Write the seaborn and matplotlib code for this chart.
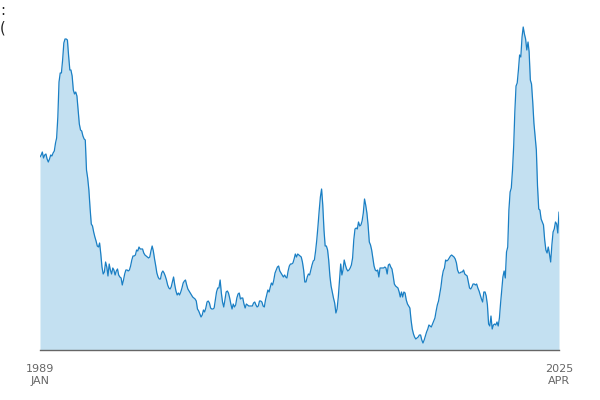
import seaborn as sns
import matplotlib.pyplot as plt
import pandas as pd

# monthly values, Jan 1989 - Apr 2025 (arbitrary units)
v1989 = [193, 195, 198, 192, 195, 196, 191, 188, 191, 195, 194, 197]
v1990 = [199, 207, 212, 233, 268, 277, 277, 290, 307, 311, 311, 310]
v1991 = [294, 280, 280, 274, 260, 256, 258, 254, 240, 226, 220, 219]
v1992 = [214, 211, 210, 180, 172, 160, 142, 126, 124, 118, 113, 109]
v1993 = [104, 103, 107, 96, 83, 76, 78, 88, 83, 74, 86, 80]
v1994 = [76, 82, 80, 75, 79, 81, 75, 73, 72, 65, 70, 76]
v1995 = [80, 80, 79, 80, 84, 90, 94, 94, 95, 100, 99, 103]
v1996 = [101, 101, 101, 97, 95, 94, 93, 92, 93, 99, 104, 99]
v1997 = [91, 84, 77, 73, 71, 71, 77, 79, 77, 74, 70, 65]
v1998 = [62, 61, 63, 68, 73, 65, 59, 55, 57, 55, 58, 62]
v1999 = [67, 69, 70, 65, 61, 59, 57, 55, 53, 52, 51, 49]
v2000 = [41, 39, 36, 33, 35, 40, 38, 42, 48, 49, 47, 42]
v2001 = [41, 41, 42, 50, 58, 62, 62, 70, 57, 48, 43, 50]
v2002 = [58, 59, 57, 52, 46, 41, 46, 43, 45, 52, 56, 57]
v2003 = [51, 52, 52, 46, 42, 46, 45, 44, 44, 44, 44, 47]
v2004 = [48, 45, 43, 44, 49, 49, 48, 44, 43, 50, 55, 60]
v2005 = [58, 63, 67, 65, 70, 77, 80, 83, 84, 79, 77, 75]
v2006 = [73, 75, 73, 72, 79, 84, 86, 86, 87, 91, 96, 93]
v2007 = [96, 95, 94, 93, 88, 80, 68, 68, 73, 76, 75, 80]
v2008 = [85, 89, 90, 99, 110, 124, 139, 153, 161, 145, 120, 104]
v2009 = [104, 100, 90, 74, 64, 58, 52, 47, 37, 41, 53, 70]
v2010 = [86, 75, 80, 90, 85, 81, 79, 80, 82, 85, 92, 110]
v2011 = [121, 122, 121, 128, 124, 125, 129, 137, 151, 145, 137, 125]
v2012 = [108, 105, 100, 92, 84, 80, 79, 80, 73, 82, 82, 82]
v2013 = [82, 83, 82, 76, 85, 86, 83, 81, 74, 66, 64, 63]
v2014 = [62, 58, 53, 58, 53, 58, 57, 50, 46, 44, 42, 30]
v2015 = [21, 16, 13, 11, 12, 13, 15, 15, 10, 7, 10, 14]
v2016 = [18, 21, 25, 24, 23, 26, 29, 32, 39, 45, 49, 56]
v2017 = [63, 73, 79, 82, 90, 89, 90, 92, 94, 95, 94, 93]
v2018 = [91, 87, 80, 77, 77, 78, 78, 80, 76, 75, 74, 68]
v2019 = [62, 61, 63, 66, 66, 65, 66, 62, 59, 55, 51, 48]
v2020 = [58, 58, 54, 45, 26, 24, 34, 21, 25, 26, 25, 28]
v2021 = [24, 32, 46, 60, 73, 79, 72, 98, 103, 140, 158, 162]
v2022 = [180, 205, 238, 264, 267, 280, 295, 293, 313, 323, 316, 311]
v2023 = [300, 308, 298, 270, 266, 248, 227, 214, 200, 164, 141, 140]
v2024 = [131, 128, 125, 110, 100, 97, 103, 96, 88, 105, 118, 121]
v2025 = [128, 126, 117, 138]

values = (v1989 + v1990 + v1991 + v1992 + v1993 + v1994 + v1995 + v1996 + v1997
          + v1998 + v1999 + v2000 + v2001 + v2002 + v2003 + v2004 + v2005 + v2006
          + v2007 + v2008 + v2009 + v2010 + v2011 + v2012 + v2013 + v2014 + v2015
          + v2016 + v2017 + v2018 + v2019 + v2020 + v2021 + v2022 + v2023 + v2024
          + v2025)
dates = pd.date_range("1989-01-01", periods=len(values), freq="MS")
df = pd.DataFrame({"date": dates, "value": values})

tick_labels = ["1989\nJAN", "2025\nAPR"]

sns.set_style("white")
plt.rcParams["font.family"] = ["DejaVu Sans"]

fig = plt.figure(figsize=(6, 4), dpi=100)
ax = fig.add_axes([40 / 600, 50 / 400, 519 / 600, 330 / 400])

ax.fill_between(df["date"], df["value"], 0, color="#c3e0f1", linewidth=0)
sns.lineplot(data=df, x="date", y="value", ax=ax, color="#1a7fc4", linewidth=0.9)

ax.set_xlim(dates[0], dates[-1])
ax.set_ylim(0, 330)
ax.set_xticks([dates[0], dates[-1]])
ax.set_xticklabels(tick_labels, color="#666666", fontsize=8, linespacing=1.3)
ax.tick_params(axis="x", length=0, pad=10)
ax.set_yticks([])
ax.set_xlabel("")
ax.set_ylabel("")

sns.despine(ax=ax, left=True)
ax.spines["bottom"].set_color("#666666")
ax.spines["bottom"].set_linewidth(1)

# clipped axis title fragments at the top-left corner
fig.text(0.0, 0.973, ":", fontsize=10.5, color="#222222", va="center", ha="left")
fig.text(0.0, 0.929, "(", fontsize=10.5, color="#222222", va="center", ha="left")

fig.savefig("out.png", dpi=100)
